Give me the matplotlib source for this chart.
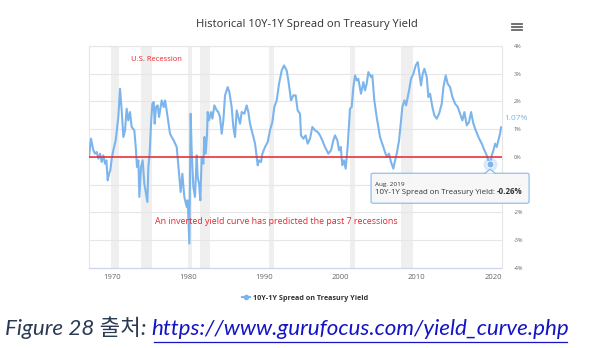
import matplotlib.pyplot as plt
from matplotlib.lines import Line2D
from matplotlib.patches import FancyBboxPatch, Polygon

# 10Y-1Y treasury spread (%), read at irregular dates
years = [
    1966.98, 1967.24, 1967.55, 1967.77, 1967.99, 1968.21, 1968.43, 1968.64, 1968.86, 1969.08,
    1969.26, 1969.43, 1969.61, 1969.78, 1969.96, 1970.17, 1970.48, 1970.83, 1971.05, 1971.27,
    1971.49, 1971.71, 1971.92, 1972.14, 1972.36, 1972.58, 1972.93, 1973.11, 1973.28, 1973.46,
    1973.59, 1973.81, 1974.02, 1974.24, 1974.46, 1974.64, 1974.77, 1974.94, 1975.12, 1975.29,
    1975.47, 1975.60, 1975.77, 1975.99, 1976.17, 1976.52, 1976.78, 1976.96, 1977.17, 1977.61,
    1977.83, 1978.09, 1978.49, 1978.79, 1979.01, 1979.23, 1979.49, 1979.80, 1979.93, 1980.15,
    1980.32, 1980.45, 1980.67, 1980.89, 1981.11, 1981.24, 1981.42, 1981.59, 1981.77, 1981.99,
    1982.12, 1982.29, 1982.47, 1982.55, 1982.73, 1982.99, 1983.17, 1983.43, 1983.74, 1983.95,
    1984.17, 1984.39, 1984.61, 1984.83, 1985.18, 1985.40, 1985.70, 1985.92, 1986.14, 1986.36,
    1986.58, 1986.80, 1987.02, 1987.37, 1987.67, 1987.89, 1988.11, 1988.33, 1988.77, 1989.12,
    1989.29, 1989.55, 1989.73, 1990.08, 1990.43, 1990.73, 1991.04, 1991.30, 1991.61, 1991.92,
    1992.27, 1992.57, 1992.92, 1993.14, 1993.49, 1993.79, 1994.10, 1994.36, 1994.67, 1994.80,
    1995.11, 1995.41, 1995.67, 1995.98, 1996.29, 1996.64, 1996.99, 1997.29, 1997.60, 1997.95,
    1998.39, 1998.74, 1999.04, 1999.26, 1999.57, 1999.79, 2000.01, 2000.22, 2000.44, 2000.66,
    2000.92, 2001.23, 2001.45, 2001.67, 2001.89, 2002.11, 2002.32, 2002.67, 2002.98, 2003.20,
    2003.42, 2003.64, 2003.99, 2004.16, 2004.42, 2004.73, 2005.17, 2005.60, 2006.04, 2006.35,
    2006.61, 2006.92, 2007.05, 2007.36, 2007.67, 2007.93, 2008.10, 2008.37, 2008.59, 2008.80,
    2008.98, 2009.24, 2009.55, 2009.85, 2010.12, 2010.34, 2010.55, 2010.77, 2010.99, 2011.30,
    2011.52, 2011.74, 2012.04, 2012.30, 2012.61, 2012.92, 2013.27, 2013.49, 2013.79, 2014.05,
    2014.36, 2014.67, 2015.02, 2015.37, 2015.67, 2015.98, 2016.24, 2016.55, 2016.85, 2017.12,
    2017.42, 2017.73, 2018.08, 2018.52, 2018.87, 2019.17, 2019.39, 2019.61, 2019.83, 2020.05,
    2020.27, 2020.48, 2020.70, 2020.92, 2021.05,
]
spread = [
    0.00, 0.66, 0.24, 0.12, 0.18, -0.06, 0.12, -0.18, 0.06, -0.24,
    -0.12, -0.84, -0.60, -0.48, -0.06, 0.24, 0.60, 1.44, 2.46, 1.68,
    0.72, 0.96, 1.74, 1.32, 1.62, 1.08, 0.96, 0.36, -0.36, -0.12,
    -1.44, -0.36, -0.12, -0.96, -1.32, -1.62, -0.36, 0.12, 1.20, 1.92,
    1.98, 1.20, 1.80, 1.86, 1.44, 2.04, 1.80, 2.04, 1.68, 0.84,
    0.72, 0.60, 0.36, -0.60, -1.26, -0.60, -1.44, -1.80, -1.56, -3.12,
    1.56, 0.24, -1.08, -1.44, 0.06, -0.72, -0.96, -1.56, 0.00, -0.24,
    0.72, 0.12, 0.84, 1.62, 1.32, 1.62, 1.38, 1.86, 1.68, 1.62,
    1.44, 0.84, 1.32, 2.22, 2.52, 2.34, 1.80, 1.08, 0.72, 1.68,
    1.44, 1.20, 1.62, 1.56, 1.86, 1.62, 1.20, 0.96, 0.48, -0.30,
    -0.12, -0.18, 0.12, 0.36, 0.54, 0.96, 1.26, 1.80, 2.04, 2.64,
    3.12, 3.30, 3.12, 2.76, 2.04, 2.22, 2.22, 1.68, 1.56, 0.78,
    0.66, 0.78, 0.48, 0.66, 1.08, 0.96, 0.90, 0.78, 0.60, 0.36,
    0.12, 0.24, 0.60, 0.78, 0.60, 0.24, 0.36, -0.30, -0.12, -0.42,
    0.36, 1.74, 1.80, 2.52, 2.94, 2.76, 2.82, 2.28, 2.70, 2.40,
    2.64, 3.06, 2.88, 2.94, 2.04, 1.44, 0.72, 0.36, 0.00, 0.12,
    -0.18, -0.42, -0.24, 0.12, 0.60, 1.32, 1.80, 2.04, 1.86, 2.16,
    2.40, 2.82, 3.00, 3.30, 3.42, 3.00, 2.58, 3.00, 3.18, 2.88,
    2.16, 2.28, 1.80, 1.50, 1.38, 1.56, 1.92, 2.52, 2.94, 2.64,
    2.52, 2.16, 1.92, 1.80, 1.56, 1.32, 1.62, 1.14, 1.26, 1.62,
    1.20, 0.96, 0.72, 0.48, 0.24, 0.06, -0.12, -0.26, 0.06, 0.24,
    0.48, 0.36, 0.60, 0.84, 1.07,
]

# NBER recessions (start, end)
recessions = [
    (1969.92, 1970.87), (1973.83, 1975.21), (1980.00, 1980.54), (1981.50, 1982.87),
    (1990.54, 1991.21), (2001.17, 2001.87), (2007.92, 2009.46),
]

x_ticks = [1970, 1980, 1990, 2000, 2010, 2020]
y_ticks = [-4, -3, -2, -1, 0, 1, 2, 3, 4]
y_labels = ['-4%', '-3%', '-2%', '-1%', '0%', '1%', '2%', '3%', '4%']

tip_date = 'Aug. 2019'
tip_year = 2019.61
series_name = '10Y-1Y Spread on Treasury Yield'

W, H = 590, 348
blue = '#7cb5ec'
red = '#e8262c'
grey = '#666666'
ink = '#333333'

plt.rcParams['font.family'] = ['Open Sans', 'DejaVu Sans']

fig = plt.figure(figsize=(W / 100, H / 100), dpi=100)
ax = fig.add_axes([89 / W, 1 - 268 / H, (501.5 - 89) / W, (268 - 46) / H])


def fx(x):
    return x / W


def fy(y):
    return 1 - y / H


for a, b in recessions:
    ax.axvspan(a, b, color='#efefef', lw=0, zorder=0)

ax.plot(years, spread, color=blue, lw=1.5, zorder=3, solid_joinstyle='round')
ax.axhline(0, color=red, lw=1.1, zorder=4)

ax.set_xlim(1966.98, 2021.11)
ax.set_ylim(-4, 4)
ax.set_xticks(x_ticks)
ax.set_xticklabels([str(t) for t in x_ticks])
ax.set_yticks(y_ticks)
ax.set_yticklabels(y_labels)
ax.yaxis.tick_right()
ax.tick_params(axis='y', length=0, pad=9, labelsize=4, labelcolor=grey)
ax.tick_params(axis='x', length=0, pad=4, labelsize=5.5, labelcolor=grey)
ax.grid(axis='y', color='#e6e6e6', lw=0.8, zorder=1)
for s in ['left', 'right', 'top']:
    ax.spines[s].set_color('#e6e6e6')
    ax.spines[s].set_linewidth(0.8)
ax.spines['bottom'].set_color('#ccd6eb')
ax.spines['bottom'].set_linewidth(0.9)

ax.text(1972.5, 3.5, 'U.S. Recession', color=red, fontsize=5.5, va='center')
ax.text(1975.64, -2.32, 'An inverted yield curve has predicted the past 7 recessions',
        color=red, fontsize=6.4, va='center')

# last value label
ax.annotate('%.2f%%' % spread[-1], xy=(years[-1], spread[-1]), xytext=(2, 6),
            textcoords='offset points', color=blue, fontsize=6, va='center', ha='left',
            annotation_clip=False)

# title and menu icon
fig.text(fx(307), fy(24), 'Historical 10Y-1Y Spread on Treasury Yield', ha='center',
         va='center', fontsize=8.1, color=ink)
for dy in (-3, 0, 3):
    fig.add_artist(Line2D([fx(512), fx(522)], [fy(27 + dy)] * 2, color=grey, lw=1.3))

# hovered point with tooltip
i = years.index(tip_year)
px, py = years[i], spread[i]
ax.plot(px, py, 'o', ms=10, color=blue, alpha=0.3, mec='none', zorder=5, clip_on=False)
ax.plot(px, py, 'o', ms=5, color=blue, mec='white', mew=0.6, zorder=6, clip_on=False)
mx, my = fig.transFigure.inverted().transform(ax.transData.transform((px, py)))
sx, sy = 1 / W, 1 / H
box = FancyBboxPatch((mx - 119 * sx, my - 39 * sy), 158 * sx, 30 * sy,
                     boxstyle='round,pad=0,rounding_size=0.004', transform=fig.transFigure,
                     fc='#f7f7f7', ec=blue, lw=0.8, alpha=0.95, zorder=10)
fig.add_artist(box)
arrow = Polygon([(mx - 5 * sx, my - 9.3 * sy), (mx, my - 5 * sy), (mx + 5 * sx, my - 9.3 * sy)],
                closed=True, transform=fig.transFigure, fc='#f7f7f7', ec='none', zorder=11)
fig.add_artist(arrow)
fig.add_artist(Line2D([mx - 5 * sx, mx, mx + 5 * sx], [my - 9 * sy, my - 5 * sy, my - 9 * sy],
                      transform=fig.transFigure, color=blue, lw=0.8, zorder=11))
fig.text(mx - 115 * sx, my - 20 * sy, tip_date, fontsize=4.6, color=ink,
         va='center', zorder=12)
t1 = fig.text(mx - 115 * sx, my - 29.5 * sy, series_name + ': ', fontsize=5.7, color=ink,
              va='baseline', zorder=12)

# legend
handle = Line2D([], [], color=blue, lw=1.5, marker='o', ms=3)
fig.legend([handle], [series_name], loc='center', bbox_to_anchor=(fx(305), fy(298)),
           frameon=False, handlelength=1.1, handletextpad=0.4,
           prop={'weight': 'bold', 'size': 5.2}, labelcolor=ink)

# source caption
cap = fig.text(fx(5), fy(335), 'Figure 28 출처: ', fontsize=16.1, style='italic',
               color='#2b3a55', va='baseline', family=['Lato', 'Noto Sans CJK KR'])

fig.canvas.draw()
inv = fig.transFigure.inverted()
b1 = t1.get_window_extent().transformed(inv)
fig.text(b1.x1, t1.get_position()[1], '%.2f%%' % py, fontsize=5.7,
         fontweight='bold', color=ink, va='baseline', zorder=12)
bc = cap.get_window_extent().transformed(inv)
url = fig.text(bc.x1, fy(335), 'https://www.gurufocus.com/yield_curve.php', fontsize=16.1,
               style='italic', color='#1414c4', va='baseline', family='Lato')
fig.canvas.draw()
bu = url.get_window_extent().transformed(inv)
fig.add_artist(Line2D([bu.x0 + 0.004, bu.x1 - 0.004], [fy(341.5)] * 2, color='#1414c4', lw=0.9))

fig.savefig('out.png', dpi=100)
